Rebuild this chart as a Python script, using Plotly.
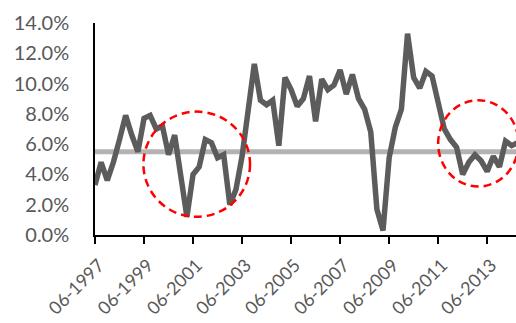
import plotly.graph_objects as go

# Quarterly periods (MM-YYYY), starting June 1997
start_year = 1997
quarters = []
m, y = 6, start_year
for _ in range(70):
    quarters.append(f"{m:02d}-{y}")
    m += 3
    if m > 12:
        m -= 12
        y += 1

# Quarterly rate, in percent
rate = [
    3.3, 4.8, 3.6, 4.8, 6.3, 7.9, 6.6, 5.5, 7.7, 7.9,
    7.0, 7.2, 5.3, 6.6, 3.9, 1.2, 4.0, 4.5, 6.3, 6.1,
    5.1, 5.3, 2.0, 3.0, 5.2, 8.2, 11.3, 8.9, 8.6, 8.9,
    5.9, 10.4, 9.6, 8.5, 9.0, 10.5, 7.5, 10.3, 9.6, 9.9,
    10.9, 9.3, 10.6, 9.0, 8.3, 6.8, 1.7, 0.3, 5.1, 7.1,
    8.3, 13.3, 10.4, 9.7, 10.8, 10.5, 8.9, 7.0, 6.3, 5.8,
    4.0, 4.8, 5.3, 4.9, 4.2, 5.2, 4.5, 6.2, 5.9, 6.1,
]

# Long-run average level
average = [5.5] * len(rate)

tick_labels = ["06-1997", "06-1999", "06-2001", "06-2003", "06-2005",
               "06-2007", "06-2009", "06-2011", "06-2013"]
y_ticks = [0, 2, 4, 6, 8, 10, 12, 14]

fig = go.Figure()
fig.add_trace(go.Scatter(
    x=quarters, y=average, mode="lines",
    line=dict(color="#b3b3b3", width=5), hoverinfo="skip",
))
fig.add_trace(go.Scatter(
    x=quarters, y=rate, mode="lines",
    line=dict(color="#5c5c5c", width=5.5),
))

# Highlight rings around the periods below average
ring = dict(type="circle", xref="x", yref="y", layer="above",
            line=dict(color="#ff0000", width=2.5, dash="8px,5px"))
fig.add_shape(x0=7.9, x1=25.3, y0=1.2, y1=8.15, **ring)
fig.add_shape(x0=56.0, x1=69.1, y0=3.2, y1=8.9, **ring)

label_font = dict(family="Lato, Open Sans, sans-serif", size=20, color="#595959")
x_font = dict(family="Lato, Open Sans, sans-serif", size=18, color="#595959")

fig.update_layout(
    width=516, height=323,
    margin=dict(l=95, r=0, t=23, b=88),
    paper_bgcolor="white", plot_bgcolor="white",
    showlegend=False,
    font=label_font,
)
fig.update_xaxes(
    type="category",
    range=[0, 68.7],
    tickmode="array", tickvals=tick_labels, ticktext=tick_labels,
    tickangle=-45, tickfont=x_font,
    ticklabelstandoff=4, ticklabelshift=4,
    showline=True, linecolor="black", linewidth=1.5,
    ticks="outside", ticklen=7, tickwidth=1.5, tickcolor="black",
    showgrid=False, zeroline=False, automargin=False,
)
fig.update_yaxes(
    range=[0, 14],
    tickmode="array", tickvals=y_ticks,
    ticktext=[f"{v:.1f}%" for v in y_ticks],
    tickfont=label_font, ticklabelstandoff=20,
    showline=True, linecolor="black", linewidth=1.5,
    ticks="", showgrid=False, zeroline=False, automargin=False,
)

fig.write_html("out.html")
